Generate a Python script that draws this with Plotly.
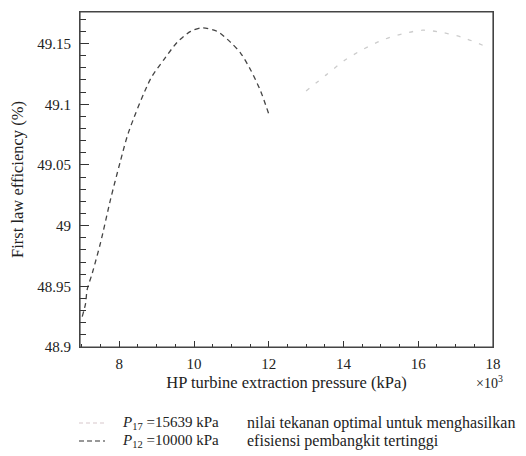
import plotly.graph_objects as go

# P12 = 10000 kPa curve (dashed)
p12_x = [7.01, 7.10, 7.14, 7.28, 7.50, 7.77, 8.03, 8.25, 8.84, 9.20, 9.55, 9.91, 10.22, 10.62, 10.98, 11.25, 11.52, 11.78, 12.0]
p12_y = [48.925, 48.936, 48.947, 48.961, 48.986, 49.022, 49.053, 49.077, 49.121, 49.137, 49.151, 49.160, 49.163, 49.160, 49.151, 49.142, 49.128, 49.111, 49.092]

# P17 = 15639 kPa curve (light)
p17_x = [13.0, 13.53, 14.02, 14.51, 15.05, 15.58, 16.12, 16.66, 17.19, 17.77]
p17_y = [49.111, 49.124, 49.136, 49.145, 49.153, 49.158, 49.161, 49.159, 49.155, 49.148]

y_ticks = [48.9, 48.95, 49.0, 49.05, 49.1, 49.15]
x_ticks = [8, 10, 12, 14, 16, 18]

FONT = "Liberation Serif, Times New Roman, serif"
TXT = "#222222"

# page has an 8px body margin; plot area in figure px: left 72, right 485, top 4, bottom 339
W, H = 526, 456
L, R, T, B = 72, W - 485, 4, H - 339
PW, PH = W - L - R, H - T - B


def px(sx):  # screen x -> paper x
    return (sx - 8 - L) / PW


def py(sy):  # screen y -> paper y
    return (H - B - (sy - 8)) / PH


fig = go.Figure()
fig.add_trace(go.Scatter(x=p12_x, y=p12_y, mode="lines",
                         line=dict(color="#444444", width=1.3, dash="5px,4px", shape="spline", smoothing=0.8),
                         showlegend=False))
fig.add_trace(go.Scatter(x=p17_x, y=p17_y, mode="lines",
                         line=dict(color="#cccccc", width=1.3, dash="4px,8px", shape="spline", smoothing=0.8),
                         showlegend=False))

fig.update_layout(
    width=W, height=H,
    margin=dict(l=L, r=R, t=T, b=B, pad=0, autoexpand=False),
    plot_bgcolor="white", paper_bgcolor="white",
    font=dict(family=FONT, size=15, color=TXT),
    showlegend=False,
)
fig.update_xaxes(
    range=[6.95, 18], tickvals=x_ticks, ticks="inside", ticklen=6, tickcolor="#333",
    showline=True, linecolor="#444", linewidth=1, mirror=True, showgrid=False, zeroline=False,
    minor=dict(dtick=0.5, tick0=0, ticks="inside", ticklen=3, tickcolor="#333"),
    title=dict(text="HP turbine extraction pressure (kPa)", font=dict(family=FONT, size=16.5, color=TXT), standoff=5),
    tickfont=dict(family=FONT, size=15, color=TXT), automargin=False, ticklabelstandoff=3,
)
fig.update_yaxes(
    range=[48.9, 49.176], tickvals=y_ticks, ticks="inside", ticklen=9, tickcolor="#333",
    showline=True, linecolor="#444", linewidth=1, mirror=True, showgrid=False, zeroline=False,
    minor=dict(dtick=0.01, tick0=48.9, ticks="inside", ticklen=6, tickcolor="#333"),
    title=dict(text="First law efficiency (%)", font=dict(family=FONT, size=16.5, color=TXT), standoff=10),
    tickfont=dict(family=FONT, size=15, color=TXT), automargin=False, ticklabelstandoff=5,
)

# frame (top edge drawn explicitly)
fig.add_shape(type="rect", xref="paper", yref="paper", x0=0, x1=1, y0=0, y1=1,
              line=dict(color="#444", width=1.2), layer="above")

# x10^3 multiplier
fig.add_annotation(x=px(489), y=py(382), xref="paper", yref="paper", xanchor="center", yanchor="middle",
                   text="×10<sup>3</sup>", showarrow=False, font=dict(family=FONT, size=14, color=TXT))

# Legend (below chart)
legend_rows = [
    ("#d8c8cc", "4px,3px", "<i>P</i><sub>17</sub> =15639 kPa", "nilai tekanan optimal untuk menghasilkan", 423),
    ("#333333", "5px,3px", "<i>P</i><sub>12</sub> =10000 kPa", "efisiensi pembangkit tertinggi", 441),
]
for color, dash, lab, desc, sy in legend_rows:
    yp = py(sy)
    fig.add_shape(type="line", xref="paper", yref="paper",
                  x0=px(79), x1=px(105), y0=yp, y1=yp,
                  line=dict(color=color, width=1.2, dash=dash))
    fig.add_annotation(x=px(120), y=yp, xref="paper", yref="paper", xanchor="left", yanchor="middle",
                       text=lab, showarrow=False, font=dict(family=FONT, size=15, color=TXT))
    fig.add_annotation(x=px(245), y=yp, xref="paper", yref="paper", xanchor="left", yanchor="middle",
                       text=desc, showarrow=False, font=dict(family=FONT, size=16, color=TXT))

fig.write_html("out.html", config={"displayModeBar": False})
